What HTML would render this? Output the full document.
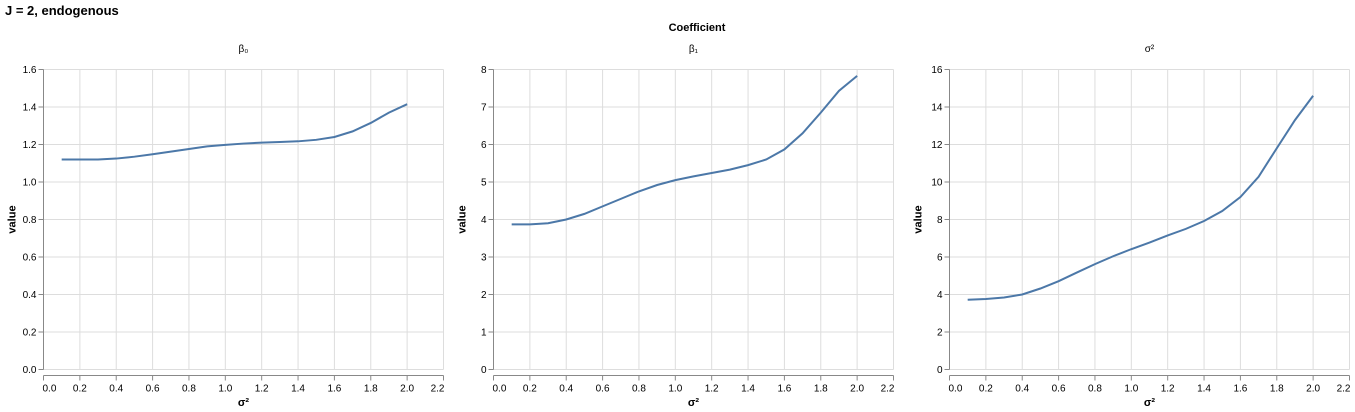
<!DOCTYPE html>
<html><head><meta charset="utf-8"><style>
body{margin:0;background:#fff;}
svg{display:block;font-family:"Liberation Sans",Arial,sans-serif;}
</style></head><body>
<svg id="chart" width="1355" height="412">
<text x="5" y="15" font-size="13" font-weight="bold">J = 2, endogenous</text>
<text x="697" y="31" font-size="11" font-weight="bold" text-anchor="middle">Coefficient</text>
</svg>
<script>
const xValues=[0.1,0.2,0.3,0.4,0.5,0.6,0.7,0.8,0.9,1.0,1.1,1.2,1.3,1.4,1.5,1.6,1.7,1.8,1.9,2.0];
const beta0Values=[1.12,1.12,1.12,1.125,1.135,1.148,1.162,1.176,1.19,1.198,1.205,1.21,1.213,1.217,1.225,1.24,1.27,1.315,1.37,1.415];
const beta1Values=[3.87,3.87,3.9,4.0,4.15,4.35,4.55,4.75,4.92,5.05,5.15,5.24,5.33,5.45,5.6,5.87,6.3,6.85,7.43,7.83];
const sigmaValues=[3.72,3.76,3.84,4.0,4.32,4.71,5.17,5.62,6.04,6.42,6.77,7.15,7.5,7.92,8.45,9.2,10.28,11.8,13.3,14.6];
const xTicks=[0,0.2,0.4,0.6,0.8,1.0,1.2,1.4,1.6,1.8,2.0,2.2];
const beta0Ticks=[0,0.2,0.4,0.6,0.8,1.0,1.2,1.4,1.6];
const beta1Ticks=[0,1,2,3,4,5,6,7,8];
const sigmaTicks=[0,2,4,6,8,10,12,14,16];
const panelTitles=["β₀","β₁","σ²"];

const NS="http://www.w3.org/2000/svg";
const svg=document.getElementById('chart');
function mk(tag,attrs,parent){const e=document.createElementNS(NS,tag);for(const k in attrs)e.setAttribute(k,attrs[k]);(parent||svg).appendChild(e);return e;}
const plotTop=69.5,plotH=300,plotW=400;
const panels=[
 {x0:43.5,vals:beta0Values,ticks:beta0Ticks,max:1.6,dec:1,name:'beta0'},
 {x0:493.5,vals:beta1Values,ticks:beta1Ticks,max:8,dec:0,name:'beta1'},
 {x0:949.5,vals:sigmaValues,ticks:sigmaTicks,max:16,dec:0,name:'sigma2'}
];
panels.forEach((p,i)=>{
 const g=mk('g',{});
 
 
 const xs=v=>p.x0+v/2.2*plotW;
 const ys=v=>plotTop+plotH-v/p.max*plotH;
 xTicks.forEach(t=>{const l=mk('line',{x1:xs(t),x2:xs(t),y1:plotTop,y2:plotTop+plotH,stroke:'#ddd','stroke-width':1},g);
  
  });
 p.ticks.forEach(t=>{const l=mk('line',{x1:p.x0,x2:p.x0+plotW,y1:ys(t),y2:ys(t),stroke:'#ddd','stroke-width':1},g);
  
  });
 const ya=mk('line',{x1:p.x0,x2:p.x0,y1:plotTop,y2:plotTop+plotH,stroke:'#888'},g);
 
 
 p.ticks.forEach(t=>{mk('line',{x1:p.x0-5,x2:p.x0,y1:ys(t),y2:ys(t),stroke:'#888'},g);
  const tx=mk('text',{x:p.x0-7,y:ys(t)+3.5,'font-size':10,'text-anchor':'end',fill:'#000'},g);
  tx.textContent=t.toFixed(p.dec);
  
  });
 const xy=plotTop+plotH+6;
 const xa=mk('line',{x1:p.x0,x2:p.x0+plotW,y1:xy,y2:xy,stroke:'#888'},g);
 
 
 xTicks.forEach((t,k)=>{mk('line',{x1:xs(t),x2:xs(t),y1:xy,y2:xy+5,stroke:'#888'},g);
  const anchor=k===0?'start':(k===xTicks.length-1?'end':'middle');
  const tx=mk('text',{x:xs(t)+(k===0?-1:0)+(k===xTicks.length-1?1:0),y:xy+16,'font-size':10,'text-anchor':anchor,fill:'#000'},g);
  tx.textContent=t.toFixed(1);
  
  });
 const xt=mk('text',{x:p.x0+plotW/2,y:406,'font-size':11,'font-weight':'bold','text-anchor':'middle'},g);
 xt.textContent='σ²';
 
 
 const lx=p.x0-28;
 const yt=mk('text',{x:0,y:0,'font-size':11,'font-weight':'bold','text-anchor':'middle',transform:`translate(${lx},${plotTop+plotH/2}) rotate(-90)`},g);
 yt.textContent='value';
 
 
 const pt=mk('text',{x:p.x0+plotW/2,y:52,'font-size':10,'text-anchor':'middle',fill:'#000'},g);
 pt.textContent=panelTitles[i];
 
 
 const d=p.vals.map((v,k)=>(k?'L':'M')+xs(xValues[k]).toFixed(2)+','+ys(v).toFixed(2)).join('');
 const path=mk('path',{d:d,fill:'none',stroke:'#4c78a8','stroke-width':2},g);
 
 
});
</script>
</body></html>
